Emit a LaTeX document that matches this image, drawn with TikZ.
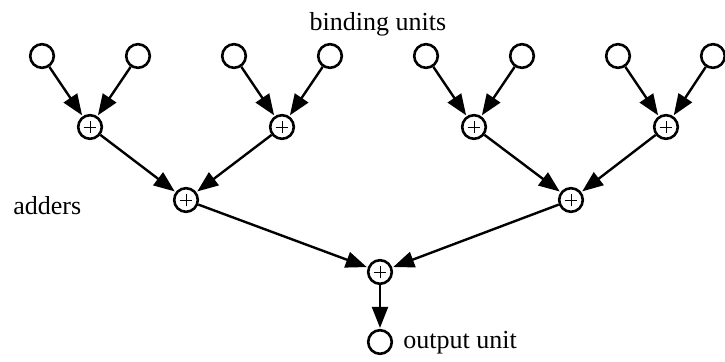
\documentclass[tikz,border=0pt]{standalone}
\usepackage{fontspec}
\setmainfont{Liberation Serif}
\usetikzlibrary{arrows.meta}
\begin{document}
\begin{tikzpicture}[x=0.5pt,y=-0.5pt,
  unit/.style={circle,draw,line width=1.3pt,minimum size=11.8pt,inner sep=0pt},
  adder/.style={unit,path picture={
      \draw[line width=0.45pt] ([xshift=-3.2pt]path picture bounding box.center) -- ([xshift=3.2pt]path picture bounding box.center);
      \draw[line width=0.45pt] ([yshift=-3.2pt]path picture bounding box.center) -- ([yshift=3.2pt]path picture bounding box.center);}},
  conn/.style={line width=1.2pt,shorten >=0.5pt,-{Triangle[length=10.5pt,width=8pt]}},
  lbl/.style={font=\fontsize{13pt}{15pt}\selectfont,inner sep=0pt}]
\useasboundingbox (0,0) rectangle (725,362);
% binding units
\foreach \i/\x in {1/42,2/138,3/234,4/330,5/426,6/522,7/618,8/713}
  \node[unit] (b\i) at (\x,56) {};
% first-level adders
\node[adder] (a1) at (90,127) {};
\node[adder] (a2) at (282,127) {};
\node[adder] (a3) at (474,127) {};
\node[adder] (a4) at (666,127) {};
% second-level adders
\node[adder] (c1) at (186,200) {};
\node[adder] (c2) at (571,200) {};
% final adder and output
\node[adder] (f) at (380,272) {};
\node[unit] (o) at (380,342) {};
% connectors
\draw[conn] (b1) -- (a1);
\draw[conn] (b2) -- (a1);
\draw[conn] (b3) -- (a2);
\draw[conn] (b4) -- (a2);
\draw[conn] (b5) -- (a3);
\draw[conn] (b6) -- (a3);
\draw[conn] (b7) -- (a4);
\draw[conn] (b8) -- (a4);
\draw[conn] (a1) -- (c1);
\draw[conn] (a2) -- (c1);
\draw[conn] (a3) -- (c2);
\draw[conn] (a4) -- (c2);
\draw[conn] (c1) -- (f);
\draw[conn] (c2) -- (f);
\draw[conn] (f) -- (o);
% labels
\node[lbl,anchor=base] (tb) at (378,31) {binding units};
\node[lbl,anchor=base west] (ta) at (13,215) {adders};
\node[lbl,anchor=base west] (to) at (403,349) {output unit};
\end{tikzpicture}
\end{document}
